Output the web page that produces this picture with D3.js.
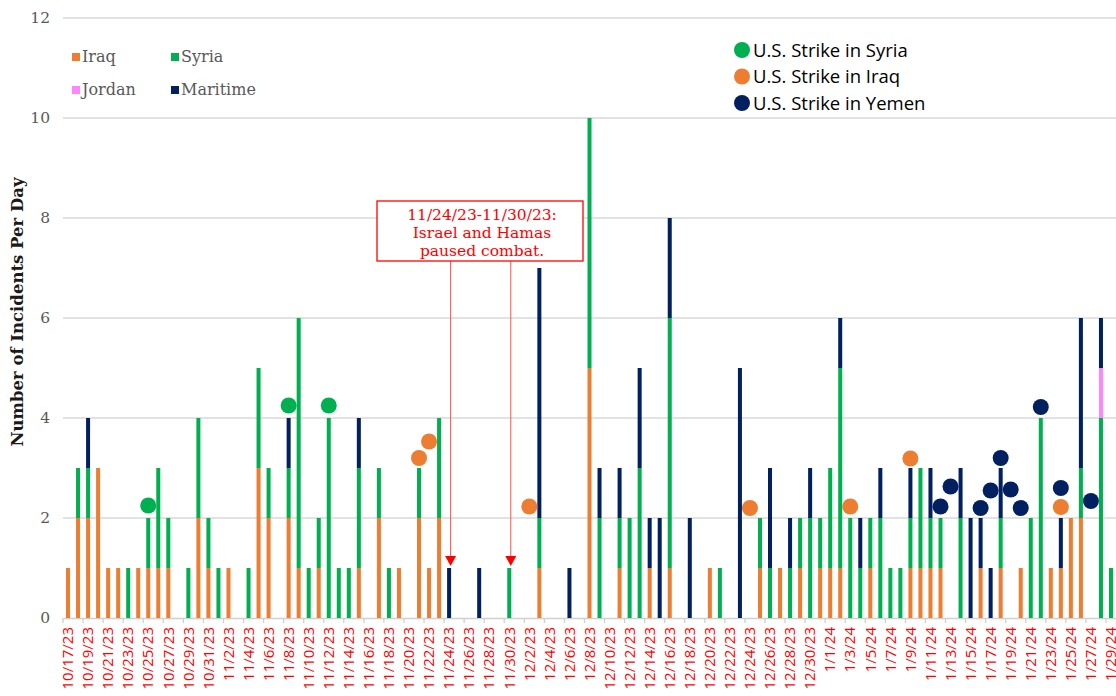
<!DOCTYPE html>
<html>
<head>
<meta charset="utf-8">
<script src="https://cdn.jsdelivr.net/npm/d3@7"></script>
<style>
  body { margin: 0; background: #fff; }
  svg { display: block; }
</style>
</head>
<body>
<div id="chart-area"></div>
<script>
// daily incident counts, 10/17/23 - 1/29/24 (Oct 15 days, Nov 30, Dec 31, Jan 29)
var iraq = [
  1,2,2,3,1,1,0,1,1,1,1,0,0,2,1,
  0,1,0,0,3,2,0,2,1,0, 1,0,0,0,1,0,2,0,1,0, 2,1,2,0,0,0,0,0,0,0,
  0,0,1,0,0,0,0,5,0,0, 1,0,0,1,0,1,0,0,0,1, 0,0,0,0,1,0,1,0,1,0, 1,
  1,1,0,0,1,0,0,0,1,1, 1,1,0,0,0,1,0,1,0,1, 0,0,1,1,2,2,0,0,0
];
var syria = [
  0,1,1,0,0,0,1,0,1,2,1,0,1,2,1,
  1,0,0,1,2,1,0,1,5,1, 1,4,1,1,2,0,1,1,0,0, 1,0,2,0,0,0,0,0,0,1,
  0,0,1,0,0,0,0,5,2,0, 1,2,3,0,0,5,0,0,0,0, 1,0,0,0,1,1,0,1,1,2, 1,
  2,4,2,1,1,2,1,1,1,2, 1,1,0,2,0,0,0,1,0,0, 2,4,0,0,0,1,0,4,1
];
var jordan = [
  0,0,0,0,0,0,0,0,0,0,0,0,0,0,0,
  0,0,0,0,0,0,0,0,0,0, 0,0,0,0,0,0,0,0,0,0, 0,0,0,0,0,0,0,0,0,0,
  0,0,0,0,0,0,0,0,0,0, 0,0,0,0,0,0,0,0,0,0, 0,0,0,0,0,0,0,0,0,0, 0,
  0,0,0,0,0,0,0,0,0,0, 0,0,0,0,0,0,0,0,0,0, 0,0,0,0,0,0,0,1,0
];
var maritime = [
  0,0,1,0,0,0,0,0,0,0,0,0,0,0,0,
  0,0,0,0,0,0,0,1,0,0, 0,0,0,0,1,0,0,0,0,0, 0,0,0,1,0,0,1,0,0,0,
  0,0,5,0,0,1,0,0,1,0, 1,0,2,1,2,2,0,2,0,0, 0,0,5,0,0,2,0,1,0,1, 0,
  0,1,0,1,0,1,0,0,1,0, 1,0,0,1,2,1,1,1,0,0, 0,0,0,1,0,3,0,1,0
];

// U.S. strikes (dot markers)
var syriaStrikeDates = ["10/25/23", "11/8/23", "11/12/23"];
var syriaStrikeVals  = [2.25, 4.25, 4.25];
var iraqStrikeDates = ["11/21/23", "11/22/23", "12/2/23", "12/24/23", "1/3/24", "1/9/24", "1/24/24"];
var iraqStrikeVals  = [3.2, 3.53, 2.23, 2.2, 2.23, 3.19, 2.22];
var yemenStrikeDates = ["1/12/24", "1/13/24", "1/16/24", "1/17/24", "1/18/24", "1/19/24", "1/20/24", "1/22/24", "1/24/24", "1/27/24"];
var yemenStrikeVals  = [2.23, 2.63, 2.2, 2.55, 3.2, 2.57, 2.2, 4.22, 2.6, 2.34];

var pauseDates = ["11/24/23", "11/30/23"];
var pauseText = ["11/24/23-11/30/23:", "Israel and Hamas", "paused combat."];

var yTicks = [0, 2, 4, 6, 8, 10, 12];

var fmt = d3.timeFormat("%-m/%-d/%y");
var dates = d3.timeDay.range(new Date(2023, 9, 17), new Date(2024, 0, 30)).map(fmt);

var keys = ["iraq", "syria", "jordan", "maritime"];
var labels = { iraq: "Iraq", syria: "Syria", jordan: "Jordan", maritime: "Maritime" };
var colors = { iraq: "#ED7D31", syria: "#00B050", jordan: "#FF85FF", maritime: "#002060" };

var rows = dates.map(function(d, i) {
  return { date: d, iraq: iraq[i], syria: syria[i], jordan: jordan[i], maritime: maritime[i] };
});

var W = 1116, H = 696;
var plotL = 63, plotR = 1116, plotT = 18, plotB = 618;

var svg = d3.select("#chart-area").append("svg")
  .attr("width", W)
  .attr("height", H);

var x = d3.scaleBand()
  .domain(dates)
  .range([plotL, plotR])
  .paddingInner(0.6)
  .paddingOuter(0.3);

var y = d3.scaleLinear()
  .domain([0, 12])
  .range([plotB, plotT]);

var cx = function(d) { return x(d) + x.bandwidth() / 2; };

// gridlines
svg.append("g").selectAll("line")
  .data(yTicks.filter(function(t) { return t > 0; }))
  .enter().append("line")
  .attr("x1", plotL).attr("x2", plotR)
  .attr("y1", function(d) { return y(d); })
  .attr("y2", function(d) { return y(d); })
  .attr("stroke", "#d9d9d9")
  .attr("stroke-width", 1.3);

// y labels
svg.append("g").selectAll("text")
  .data(yTicks)
  .enter().append("text")
  .attr("x", 50)
  .attr("y", function(d) { return y(d); })
  .attr("dy", "0.35em")
  .attr("text-anchor", "end")
  .attr("font-family", "DejaVu Serif")
  .attr("font-size", "15.5px")
  .attr("fill", "#595959")
  .text(function(d) { return d; });

// y title
svg.append("text")
  .attr("transform", "translate(23," + 312 + ") rotate(-90)")
  .attr("text-anchor", "middle")
  .attr("font-family", "DejaVu Serif")
  .attr("font-weight", "bold")
  .attr("font-size", "16.5px")
  .attr("fill", "#1a1a1a")
  .text("Number of Incidents Per Day");

// x axis
var xAxis = d3.axisBottom(x)
  .tickValues(dates.filter(function(d, i) { return i % 2 === 0; }))
  .tickSize(0)
  .tickSizeOuter(0);

var gx = svg.append("g")
  .attr("transform", "translate(0," + plotB + ")")
  .call(xAxis);
gx.select(".domain").attr("stroke", "#d0d0d0").attr("stroke-width", 1.3);
gx.selectAll("text")
  .attr("transform", "rotate(-90)")
  .attr("text-anchor", "end")
  .attr("x", -9)
  .attr("y", 0)
  .attr("dy", "0.35em")
  .attr("font-family", "Open Sans")
  .attr("font-size", "15px")
  .attr("font-weight", 500)
  .attr("fill", "#ff0000");

// tick marks at band boundaries every two days
var gap = (x.step() - x.bandwidth()) / 2;
gx.selectAll(".tickmark")
  .data(dates.filter(function(d, i) { return i % 2 === 0; }))
  .enter().append("line")
  .attr("class", "tickmark")
  .attr("x1", function(d) { return x(d) - gap; })
  .attr("x2", function(d) { return x(d) - gap; })
  .attr("y1", 0).attr("y2", 5)
  .attr("stroke", "#d0d0d0")
  .attr("stroke-width", 1.3);

// stacked bars
var series = d3.stack().keys(keys)(rows);

svg.append("g").selectAll("g")
  .data(series)
  .enter().append("g")
  .attr("fill", function(s) { return colors[s.key]; })
  .selectAll("rect")
  .data(function(s) { return s; })
  .enter().append("rect")
  .attr("x", function(d) { return x(d.data.date); })
  .attr("width", x.bandwidth())
  .attr("y", function(d) { return y(d[1]); })
  .attr("height", function(d) { return y(d[0]) - y(d[1]); });

// strike dots
function dots(dts, vals, color) {
  svg.append("g").selectAll("circle")
    .data(dts.map(function(d, i) { return { date: d, v: vals[i] }; }))
    .enter().append("circle")
    .attr("cx", function(d) { return cx(d.date); })
    .attr("cy", function(d) { return y(d.v); })
    .attr("r", 8)
    .attr("fill", color);
}
dots(syriaStrikeDates, syriaStrikeVals, "#00B050");
dots(iraqStrikeDates, iraqStrikeVals, "#ED7D31");
dots(yemenStrikeDates, yemenStrikeVals, "#002060");

// pause annotation
var boxX = 377, boxY = 201, boxW = 206, boxH = 60;
var totals = {};
rows.forEach(function(r) { totals[r.date] = r.iraq + r.syria + r.jordan + r.maritime; });

var ann = svg.append("g");
pauseDates.forEach(function(d) {
  var px = cx(d) + 1.5;
  var tipY = y(totals[d]) - 2;
  ann.append("line")
    .attr("x1", px).attr("x2", px)
    .attr("y1", boxY + boxH).attr("y2", tipY - 9)
    .attr("stroke", "#ff5050")
    .attr("stroke-width", 1);
  ann.append("path")
    .attr("d", "M" + (px - 5.5) + "," + (tipY - 10) + "L" + (px + 5.5) + "," + (tipY - 10) + "L" + px + "," + tipY + "Z")
    .attr("fill", "#ff0000");
});
ann.append("rect")
  .attr("x", boxX).attr("y", boxY)
  .attr("width", boxW).attr("height", boxH)
  .attr("fill", "#fff")
  .attr("stroke", "#ff0000")
  .attr("stroke-width", 1.3);
ann.selectAll(".atext")
  .data(pauseText)
  .enter().append("text")
  .attr("class", "atext")
  .attr("x", boxX + boxW / 2 + 2)
  .attr("y", function(d, i) { return boxY + 19 + i * 18; })
  .attr("text-anchor", "middle")
  .attr("font-family", "DejaVu Serif")
  .attr("font-size", "15.5px")
  .attr("fill", "#ff0000")
  .text(function(d) { return d; });

// bar legend
var leg = svg.append("g").selectAll("g")
  .data(keys)
  .enter().append("g")
  .attr("transform", function(d, i) {
    return "translate(" + (72 + (i % 2) * 99) + "," + (53 + Math.floor(i / 2) * 33) + ")";
  });
leg.append("rect")
  .attr("width", 8).attr("height", 8)
  .attr("fill", function(d) { return colors[d]; });
leg.append("text")
  .attr("x", 10).attr("y", 8.5)
  .attr("font-family", "DejaVu Serif")
  .attr("font-size", "16px")
  .attr("fill", "#595959")
  .text(function(d) { return labels[d]; });

// strike legend
var strikeLeg = [
  { label: "U.S. Strike in Syria", color: "#00B050" },
  { label: "U.S. Strike in Iraq", color: "#ED7D31" },
  { label: "U.S. Strike in Yemen", color: "#002060" }
];
var leg2 = svg.append("g").selectAll("g")
  .data(strikeLeg)
  .enter().append("g")
  .attr("transform", function(d, i) { return "translate(742," + (50 + i * 26.5) + ")"; });
leg2.append("circle")
  .attr("r", 8)
  .attr("fill", function(d) { return d.color; });
leg2.append("text")
  .attr("x", 11).attr("dy", "0.36em")
  .attr("font-family", "Open Sans")
  .attr("font-size", "18.5px")
  .attr("fill", "#000")
  .text(function(d) { return d.label; });
</script>
</body>
</html>
